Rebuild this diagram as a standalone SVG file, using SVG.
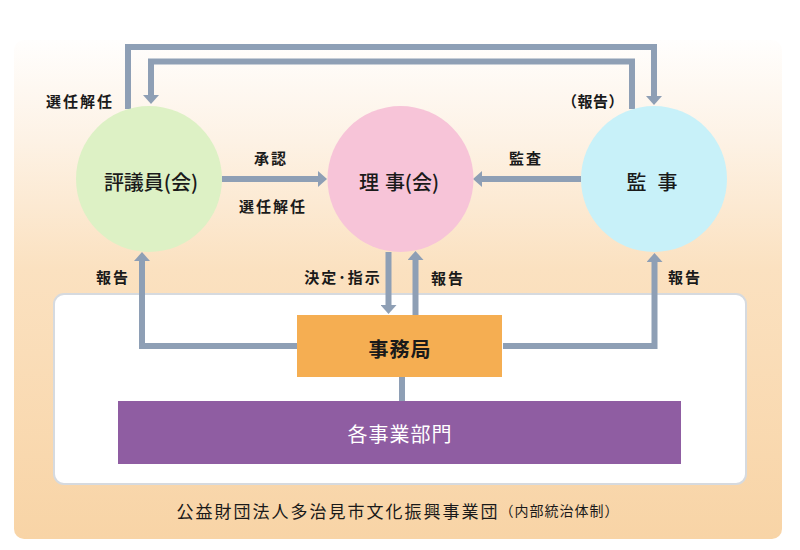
<svg xmlns="http://www.w3.org/2000/svg" width="800" height="550" viewBox="0 0 800 550">
<defs>
<linearGradient id="bg" x1="0" y1="0" x2="0" y2="1">
<stop offset="0" stop-color="#fffefd"/>
<stop offset="0.2" stop-color="#fdf2e5"/>
<stop offset="0.46" stop-color="#fbe1c0"/>
<stop offset="1" stop-color="#f8d4a6"/>
</linearGradient>
<marker id="ah" viewBox="0 0 9 16" refX="0" refY="8" markerWidth="9" markerHeight="16" markerUnits="userSpaceOnUse" orient="auto">
<path d="M0,0 L9,8 L0,16 z" fill="#8e9fb5"/>
</marker>
<style>
.ln{fill:none;stroke:#8e9fb5;stroke-width:6}
.arr{marker-end:url(#ah)}
.lbl{font-family:"Noto Sans CJK JP","Noto Sans",sans-serif;font-size:15px;font-weight:bold;fill:#1a1a1a;text-anchor:middle;dominant-baseline:central;letter-spacing:2px}
.node{font-family:"Noto Sans CJK JP","Noto Sans",sans-serif;font-size:20px;font-weight:500;fill:#1a1a1a;text-anchor:middle;dominant-baseline:central}
</style>
</defs>
<rect x="14" y="40" width="768" height="499" rx="10" fill="url(#bg)"/>
<rect id="inner-box" x="54" y="294" width="692" height="190" rx="10" fill="#ffffff" stroke="#d6dadf" stroke-width="2"/>
<g id="connectors">
<path class="ln arr" d="M128,109 V47 H654 V96"/>
<path class="ln arr" d="M632,109 V61.5 H151 V95"/>
<path class="ln arr" d="M222,179 H318"/>
<path class="ln arr" d="M581,179 H482"/>
<path class="ln arr" d="M298,346 H142 V261"/>
<path class="ln arr" d="M503,346 H654.5 V262"/>
<path class="ln arr" d="M388.5,252 V305"/>
<path class="ln arr" d="M415.5,315 V260"/>
<path class="ln" d="M402,377 V401"/>
</g>
<g id="labels">
<text class="lbl" x="80" y="100">選任解任</text>
<text class="lbl" x="593" y="100" style="letter-spacing:0.5px">（報告）</text>
<text class="lbl" x="271" y="157">承認</text>
<text class="lbl" x="273" y="205">選任解任</text>
<text class="lbl" x="526" y="157">監査</text>
<text class="lbl" x="113" y="276">報告</text>
<text class="lbl" x="343" y="276">決定･指示</text>
<text class="lbl" x="448" y="277">報告</text>
<text class="lbl" x="685" y="276">報告</text>
</g>
<g id="hyogiin">
<circle cx="149" cy="179" r="73" fill="#ddf1c5"/>
<text class="node" x="151" y="181">評議員(会)</text>
</g>
<g id="riji">
<circle cx="400.5" cy="179" r="73" fill="#f7c4d8"/>
<text class="node" x="399" y="181">理<tspan dx="6">事(会)</tspan></text>
</g>
<g id="kanji">
<circle cx="654" cy="179" r="73" fill="#c8f1f9"/>
<text class="node" x="652" y="181">監<tspan dx="11">事</tspan></text>
</g>
<g id="jimukyoku">
<rect x="297" y="315" width="205" height="62" fill="#f5ae52"/>
<text class="node" x="400" y="348" style="font-weight:bold;letter-spacing:1px">事務局</text>
</g>
<g id="jigyobumon">
<rect x="118" y="401" width="563" height="63" fill="#8f5da2"/>
<text class="node" x="400" y="433" style="fill:#ffffff;font-weight:normal;letter-spacing:1px">各事業部門</text>
</g>
<text x="398" y="510" style="font-family:'Noto Sans CJK JP','Noto Sans',sans-serif;font-size:17px;fill:#1a1a1a;text-anchor:middle;dominant-baseline:central;letter-spacing:2px">公益財団法人多治見市文化振興事業団<tspan style="font-size:14px;letter-spacing:1px">（内部統治体制）</tspan></text>
</svg>
